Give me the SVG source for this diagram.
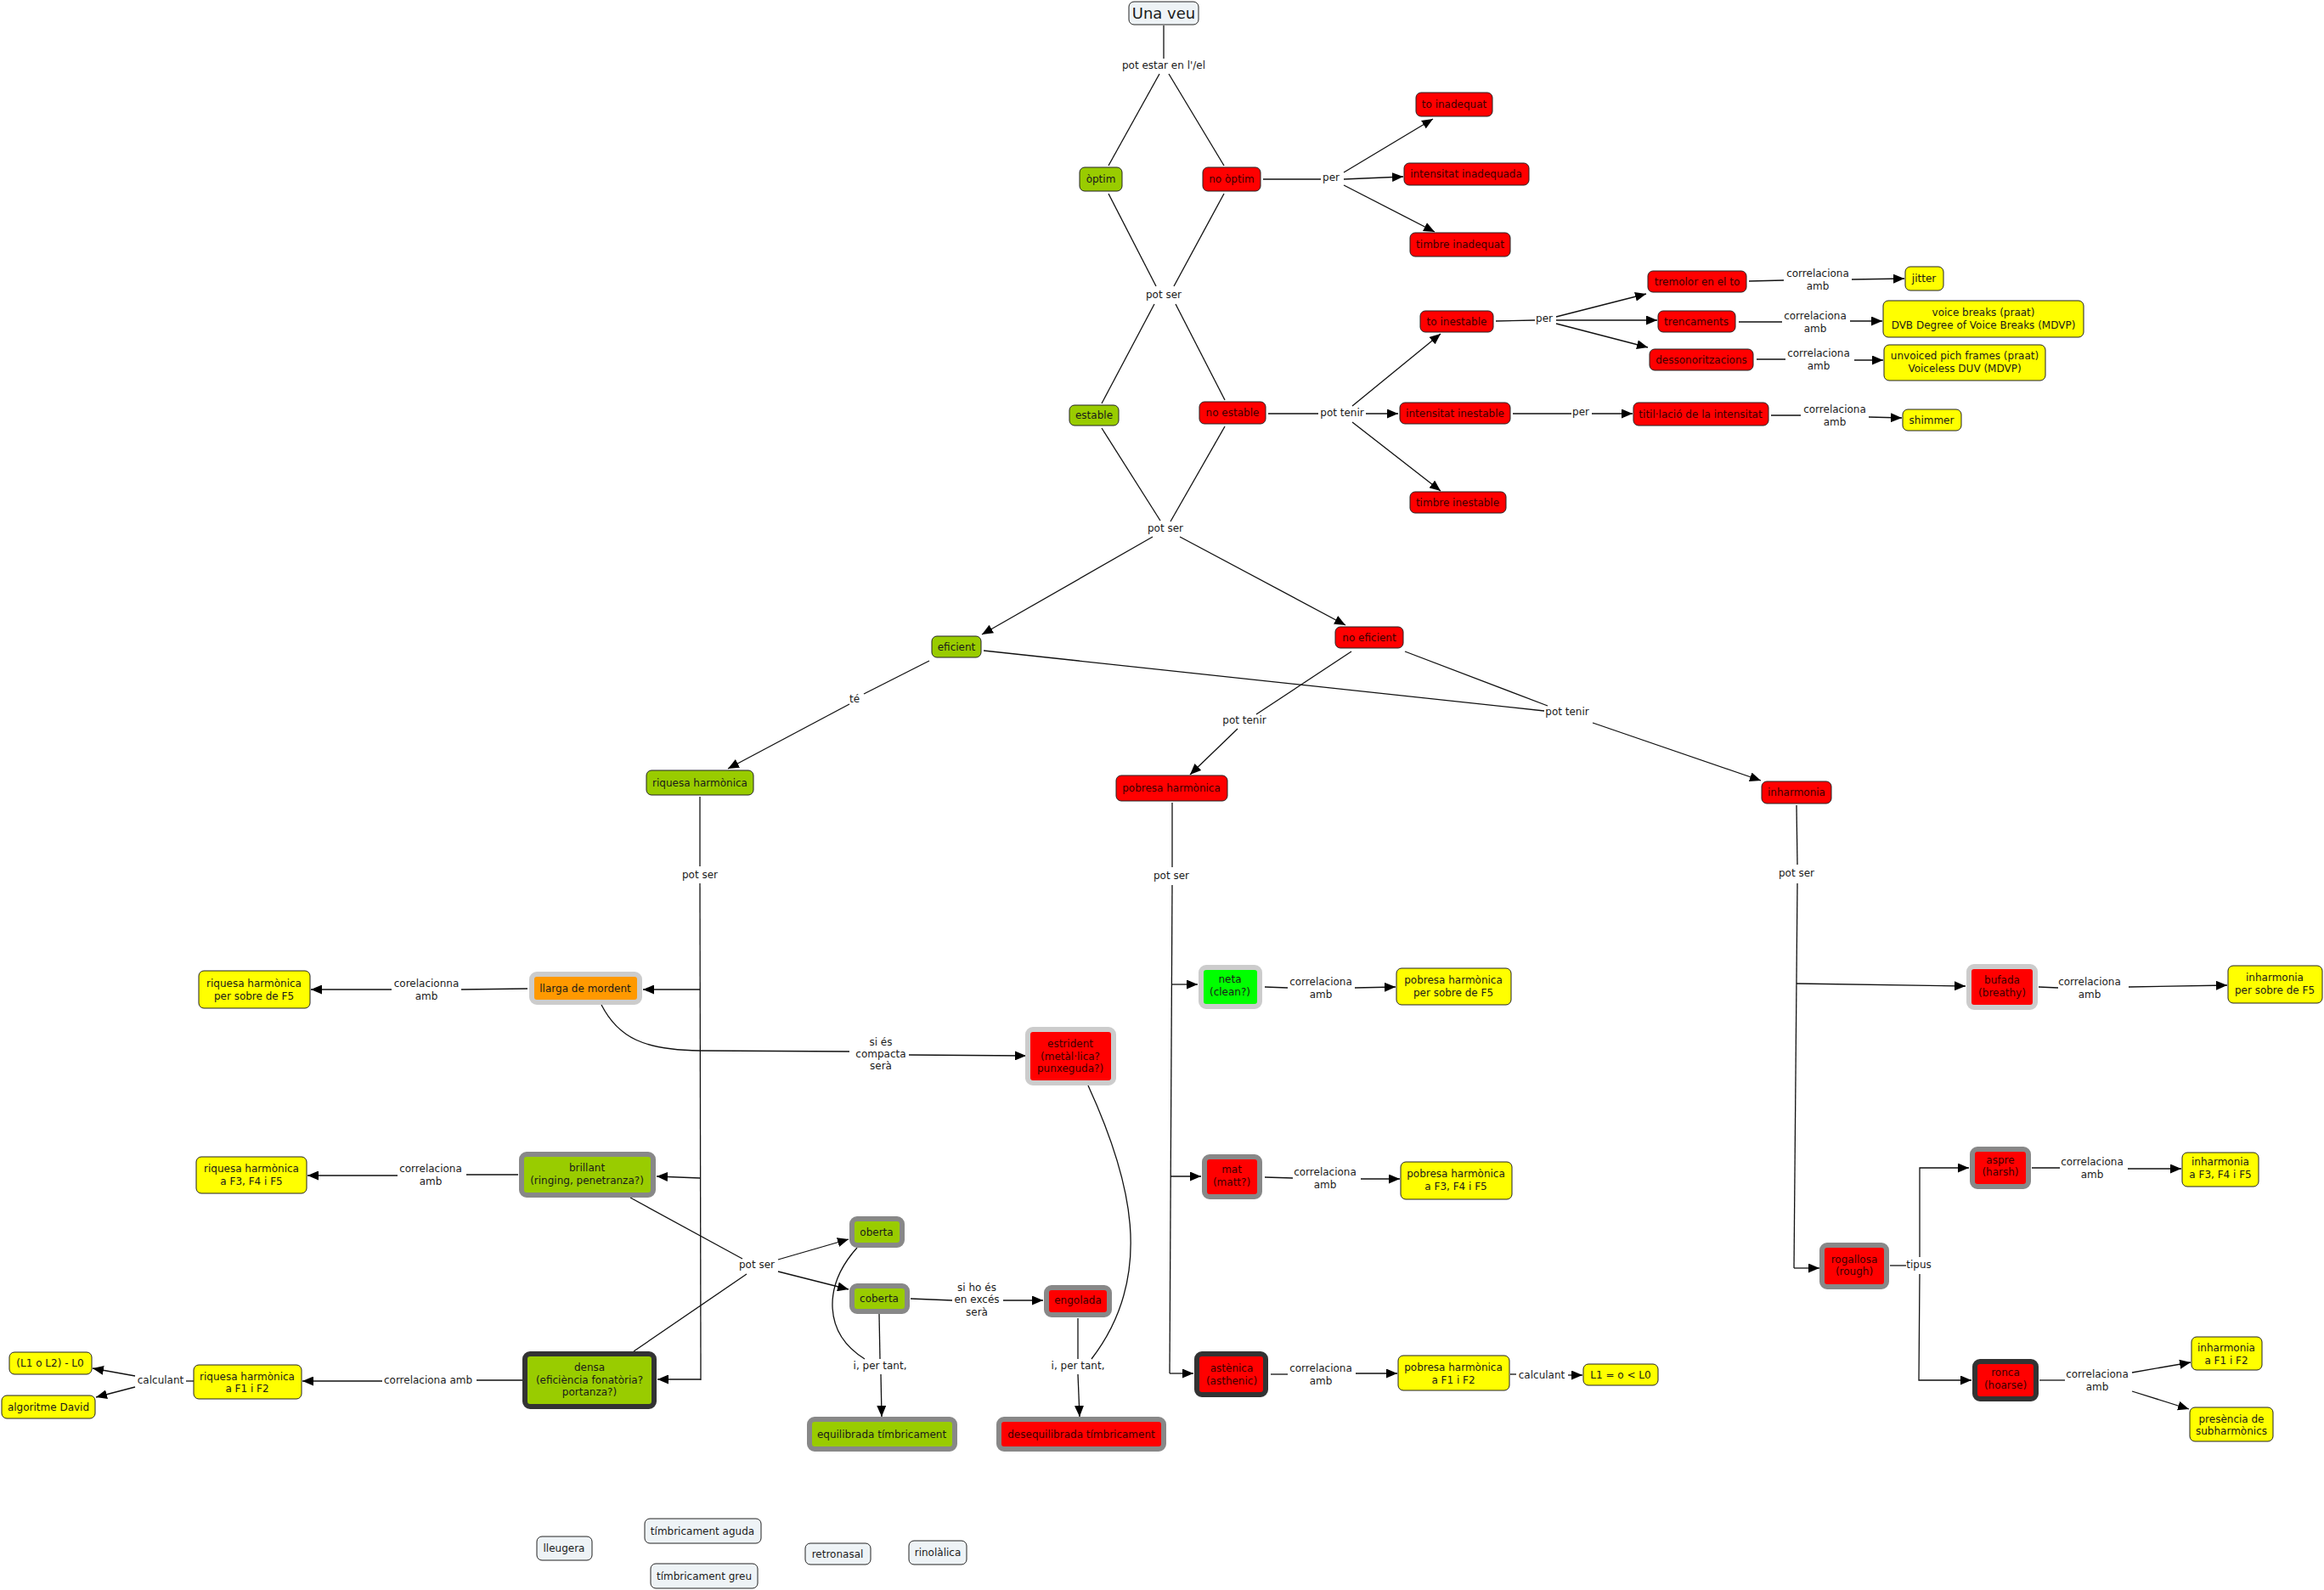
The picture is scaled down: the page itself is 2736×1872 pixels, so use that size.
<svg xmlns="http://www.w3.org/2000/svg" width="2736" height="1872" viewBox="0 0 2736 1872">
<style>
text{font-family:"DejaVu Sans",Verdana,sans-serif;font-size:12px;fill:#1a1a1a;text-anchor:middle}
.n rect{stroke:#222;stroke-width:1}
.red rect{fill:#ff0000}.red text{fill:#3a0000}
.grn rect{fill:#99cc00}
.yel rect{fill:#ffff00}
.org rect{fill:#ff9900}
.lim rect{fill:#00ff00}
.lt rect{fill:#eef3f6}
.b1 rect{stroke:#cccccc;stroke-width:6}
.b2 rect{stroke:#888888;stroke-width:6}
.b3 rect{stroke:#333333;stroke-width:6}
#links line,#links path,#links polyline{stroke:#111;stroke-width:1.3;fill:none}
#links .a{marker-end:url(#ah)}
</style>
<defs>
<marker id="ah" markerUnits="userSpaceOnUse" markerWidth="13" markerHeight="11" refX="13" refY="5.5" orient="auto"><path d="M0,0 L13,5.5 L0,11 z" fill="#000"/></marker>
</defs>
<rect width="2736" height="1872" fill="#fff"/>
<g id="links">
<line x1="1370" y1="30" x2="1370" y2="69"/>
<line x1="1365" y1="87" x2="1305" y2="195"/>
<line x1="1376" y1="87" x2="1441" y2="195"/>
<line x1="1305" y1="228" x2="1361" y2="337"/>
<line x1="1441" y1="228" x2="1382" y2="337"/>
<line x1="1359" y1="358" x2="1297" y2="475"/>
<line x1="1384" y1="358" x2="1442" y2="471"/>
<line x1="1297" y1="504" x2="1366" y2="613"/>
<line x1="1442" y1="502" x2="1378" y2="614"/>
<line class="a" x1="1357" y1="632" x2="1156" y2="747"/>
<line class="a" x1="1389" y1="632" x2="1584" y2="736"/>
<line x1="1487" y1="211" x2="1555" y2="211"/>
<line class="a" x1="1582" y1="203" x2="1687" y2="140"/>
<line class="a" x1="1582" y1="211" x2="1652" y2="208"/>
<line class="a" x1="1582" y1="218" x2="1689" y2="273"/>
<line x1="1493" y1="487" x2="1552" y2="487"/>
<line class="a" x1="1608" y1="487" x2="1646" y2="487"/>
<line class="a" x1="1592" y1="478" x2="1696" y2="393"/>
<line class="a" x1="1592" y1="497" x2="1696" y2="578"/>
<line x1="1761" y1="378" x2="1807" y2="377"/>
<line class="a" x1="1832" y1="373" x2="1938" y2="346"/>
<line class="a" x1="1832" y1="377" x2="1951" y2="377"/>
<line class="a" x1="1832" y1="381" x2="1940" y2="409"/>
<line x1="2059" y1="331" x2="2100" y2="330"/>
<line class="a" x1="2180" y1="329" x2="2242" y2="328"/>
<line x1="2047" y1="379" x2="2098" y2="379"/>
<line class="a" x1="2178" y1="378" x2="2216" y2="378"/>
<line x1="2068" y1="423" x2="2102" y2="423"/>
<line class="a" x1="2183" y1="424" x2="2217" y2="424"/>
<line x1="1781" y1="487" x2="1850" y2="487"/>
<line class="a" x1="1874" y1="487" x2="1922" y2="487"/>
<line x1="2085" y1="489" x2="2120" y2="489"/>
<line class="a" x1="2200" y1="491" x2="2239" y2="492"/>
<line x1="1094" y1="778" x2="1017" y2="817"/>
<line class="a" x1="1000" y1="829" x2="857" y2="905"/>
<line x1="1158" y1="766" x2="1818" y2="837"/>
<line x1="1654" y1="767" x2="1822" y2="831"/>
<line class="a" x1="1875" y1="851" x2="2073" y2="919"/>
<line x1="1591" y1="767" x2="1479" y2="841"/>
<line class="a" x1="1457" y1="858" x2="1401" y2="912"/>
<line x1="824" y1="938" x2="824" y2="1020"/>
<line x1="824" y1="1040" x2="825" y2="1625"/>
<line class="a" x1="824" y1="1165" x2="757" y2="1165"/>
<line class="a" x1="824" y1="1387" x2="773" y2="1385"/>
<line class="a" x1="825" y1="1624" x2="774" y2="1624"/>
<line x1="621" y1="1164" x2="543" y2="1165"/>
<line class="a" x1="461" y1="1165" x2="366" y2="1165"/>
<path d="M708,1183 C728,1222 758,1236 824,1237 L1000,1238"/>
<line class="a" x1="1070" y1="1242" x2="1208" y2="1243"/>
<line x1="610" y1="1383" x2="549" y2="1383"/>
<line class="a" x1="468" y1="1384" x2="362" y2="1384"/>
<line x1="742" y1="1410" x2="874" y2="1482"/>
<line x1="746" y1="1591" x2="879" y2="1500"/>
<line class="a" x1="916" y1="1483" x2="999" y2="1459"/>
<line class="a" x1="916" y1="1497" x2="999" y2="1518"/>
<line x1="615" y1="1625" x2="561" y2="1625"/>
<line class="a" x1="450" y1="1626" x2="356" y2="1626"/>
<line x1="228" y1="1626" x2="219" y2="1626"/>
<line class="a" x1="159" y1="1620" x2="109" y2="1611"/>
<line class="a" x1="159" y1="1633" x2="113" y2="1645"/>
<line x1="1072" y1="1529" x2="1121" y2="1531"/>
<line class="a" x1="1181" y1="1531" x2="1228" y2="1531"/>
<line x1="1035" y1="1547" x2="1036" y2="1600"/>
<line class="a" x1="1037" y1="1618" x2="1038" y2="1668"/>
<path d="M1009,1469 C968,1515 970,1570 1018,1600"/>
<line x1="1269" y1="1552" x2="1269" y2="1600"/>
<line class="a" x1="1269" y1="1618" x2="1271" y2="1668"/>
<path d="M1281,1278 C1330,1385 1362,1500 1285,1600"/>
<line x1="1380" y1="945" x2="1380" y2="1021"/>
<line x1="1380" y1="1042" x2="1377" y2="1617"/>
<line class="a" x1="1379" y1="1159" x2="1410" y2="1159"/>
<line class="a" x1="1378" y1="1385" x2="1414" y2="1385"/>
<line class="a" x1="1377" y1="1617" x2="1405" y2="1617"/>
<line x1="1489" y1="1162" x2="1516" y2="1163"/>
<line class="a" x1="1595" y1="1163" x2="1643" y2="1162"/>
<line x1="1489" y1="1386" x2="1522" y2="1387"/>
<line class="a" x1="1602" y1="1388" x2="1648" y2="1388"/>
<line x1="1496" y1="1618" x2="1516" y2="1618"/>
<line class="a" x1="1596" y1="1617" x2="1645" y2="1617"/>
<line x1="1778" y1="1618" x2="1785" y2="1618"/>
<line class="a" x1="1846" y1="1619" x2="1863" y2="1619"/>
<line x1="2115" y1="948" x2="2116" y2="1018"/>
<polyline points="2116,1040 2112,1493"/>
<line class="a" x1="2115" y1="1158" x2="2314" y2="1161"/>
<line class="a" x1="2112" y1="1493" x2="2142" y2="1493"/>
<line x1="2400" y1="1162" x2="2423" y2="1163"/>
<line class="a" x1="2506" y1="1162" x2="2622" y2="1160"/>
<line x1="2225" y1="1490" x2="2244" y2="1490"/>
<polyline class="a" points="2260,1480 2260,1375 2318,1375"/>
<polyline class="a" points="2260,1500 2259,1625 2321,1625"/>
<line x1="2392" y1="1375" x2="2425" y2="1375"/>
<line class="a" x1="2505" y1="1376" x2="2568" y2="1376"/>
<line x1="2401" y1="1625" x2="2431" y2="1625"/>
<line class="a" x1="2510" y1="1616" x2="2579" y2="1604"/>
<line class="a" x1="2510" y1="1638" x2="2577" y2="1659"/>
</g>
<g id="labels">
<text x="1370" y="81">pot estar en l'/el</text>
<text x="1370" y="351">pot ser</text>
<text x="1372" y="626">pot ser</text>
<text x="1567" y="213">per</text>
<text x="1580" y="490">pot tenir</text>
<text x="1818" y="379">per</text>
<text x="1861" y="489">per</text>
<text x="2140" y="326">correlaciona</text><text x="2140" y="341">amb</text>
<text x="2137" y="376">correlaciona</text><text x="2137" y="391">amb</text>
<text x="2141" y="420">correlaciona</text><text x="2141" y="435">amb</text>
<text x="2160" y="486">correlaciona</text><text x="2160" y="501">amb</text>
<text x="1006" y="827">té</text>
<text x="1845" y="842">pot tenir</text>
<text x="1465" y="852">pot tenir</text>
<text x="824" y="1034">pot ser</text>
<text x="1379" y="1035">pot ser</text>
<text x="2115" y="1032">pot ser</text>
<text x="502" y="1162">corelacionna</text><text x="502" y="1177">amb</text>
<text x="1037" y="1231">si és</text><text x="1037" y="1245">compacta</text><text x="1037" y="1259">serà</text>
<text x="507" y="1380">correlaciona</text><text x="507" y="1395">amb</text>
<text x="891" y="1493">pot ser</text>
<text x="504" y="1629">correlaciona amb</text>
<text x="189" y="1629">calculant</text>
<text x="1150" y="1520">si ho és</text><text x="1150" y="1534">en excés</text><text x="1150" y="1549">serà</text>
<text x="1036" y="1612">i, per tant,</text>
<text x="1269" y="1612">i, per tant,</text>
<text x="1555" y="1160">correlaciona</text><text x="1555" y="1175">amb</text>
<text x="1560" y="1384">correlaciona</text><text x="1560" y="1399">amb</text>
<text x="1555" y="1615">correlaciona</text><text x="1555" y="1630">amb</text>
<text x="1815" y="1623">calculant</text>
<text x="2460" y="1160">correlaciona</text><text x="2460" y="1175">amb</text>
<text x="2259" y="1493">tipus</text>
<text x="2463" y="1372">correlaciona</text><text x="2463" y="1387">amb</text>
<text x="2469" y="1622">correlaciona</text><text x="2469" y="1637">amb</text>
</g>
<g id="una_veu" class="n lt"><rect x="1329" y="2" width="82" height="27" rx="6"/><text x="1370" y="22" style="font-size:18px">Una veu</text></g>
<g id="optim" class="n grn"><rect x="1271" y="197" width="50" height="28" rx="6"/><text x="1296" y="215">òptim</text></g>
<g id="no_optim" class="n red"><rect x="1416" y="197" width="68" height="28" rx="6"/><text x="1450" y="215">no òptim</text></g>
<g id="to_inadequat" class="n red"><rect x="1667" y="109" width="90" height="28" rx="6"/><text x="1712" y="127">to inadequat</text></g>
<g id="intensitat_inadequada" class="n red"><rect x="1653" y="192" width="147" height="26" rx="6"/><text x="1726" y="209">intensitat inadequada</text></g>
<g id="timbre_inadequat" class="n red"><rect x="1660" y="274" width="118" height="28" rx="6"/><text x="1719" y="292">timbre inadequat</text></g>
<g id="estable" class="n grn"><rect x="1259" y="477" width="58" height="24" rx="6"/><text x="1288" y="493">estable</text></g>
<g id="no_estable" class="n red"><rect x="1412" y="473" width="78" height="26" rx="6"/><text x="1451" y="490">no estable</text></g>
<g id="to_inestable" class="n red"><rect x="1672" y="366" width="86" height="25" rx="6"/><text x="1715" y="383">to inestable</text></g>
<g id="intensitat_inestable" class="n red"><rect x="1648" y="474" width="130" height="25" rx="6"/><text x="1713" y="491">intensitat inestable</text></g>
<g id="timbre_inestable" class="n red"><rect x="1660" y="579" width="113" height="25" rx="6"/><text x="1716" y="596">timbre inestable</text></g>
<g id="tremolor" class="n red"><rect x="1940" y="319" width="116" height="25" rx="6"/><text x="1998" y="336">tremolor en el to</text></g>
<g id="trencaments" class="n red"><rect x="1952" y="366" width="91" height="25" rx="6"/><text x="1997" y="383">trencaments</text></g>
<g id="dessonoritzacions" class="n red"><rect x="1942" y="411" width="122" height="25" rx="6"/><text x="2003" y="428">dessonoritzacions</text></g>
<g id="titillacio" class="n red"><rect x="1923" y="474" width="159" height="27" rx="6"/><text x="2002" y="492">titil·lació de la intensitat</text></g>
<g id="jitter" class="n yel"><rect x="2243" y="314" width="45" height="28" rx="6"/><text x="2265" y="332">jitter</text></g>
<g id="voice_breaks" class="n yel"><rect x="2217" y="354" width="236" height="43" rx="6"/><text x="2335" y="372">voice breaks (praat)</text><text x="2335" y="387">DVB Degree of Voice Breaks (MDVP)</text></g>
<g id="unvoiced" class="n yel"><rect x="2218" y="406" width="190" height="42" rx="6"/><text x="2313" y="423">unvoiced pich frames (praat)</text><text x="2313" y="438">Voiceless DUV (MDVP)</text></g>
<g id="shimmer" class="n yel"><rect x="2240" y="482" width="69" height="25" rx="6"/><text x="2274" y="499">shimmer</text></g>
<g id="eficient" class="n grn"><rect x="1097" y="749" width="58" height="25" rx="6"/><text x="1126" y="766">eficient</text></g>
<g id="no_eficient" class="n red"><rect x="1572" y="738" width="80" height="25" rx="6"/><text x="1612" y="755">no eficient</text></g>
<g id="riquesa" class="n grn"><rect x="761" y="907" width="126" height="29" rx="6"/><text x="824" y="926">riquesa harmònica</text></g>
<g id="pobresa" class="n red"><rect x="1314" y="913" width="131" height="30" rx="6"/><text x="1379" y="932">pobresa harmònica</text></g>
<g id="inharmonia" class="n red"><rect x="2074" y="920" width="82" height="26" rx="6"/><text x="2115" y="937">inharmonia</text></g>
<g id="llarga" class="n org b1"><rect x="626" y="1147" width="127" height="33" rx="6"/><text x="689" y="1168">llarga de mordent</text></g>
<g id="riquesa_f5" class="n yel"><rect x="234" y="1143" width="131" height="44" rx="6"/><text x="299" y="1162">riquesa harmònica</text><text x="299" y="1177">per sobre de F5</text></g>
<g id="estrident" class="n red b1"><rect x="1210" y="1212" width="101" height="63" rx="6"/><text x="1260" y="1233">estrident</text><text x="1260" y="1248">(metàl·lica?</text><text x="1260" y="1262">punxeguda?)</text></g>
<g id="neta" class="n lim b1"><rect x="1414" y="1139" width="69" height="46" rx="6"/><text x="1448" y="1157">neta</text><text x="1448" y="1172">(clean?)</text></g>
<g id="pobresa_f5" class="n yel"><rect x="1644" y="1140" width="135" height="43" rx="6"/><text x="1711" y="1158">pobresa harmònica</text><text x="1711" y="1173">per sobre de F5</text></g>
<g id="brillant" class="n grn b2"><rect x="614" y="1359" width="155" height="48" rx="6"/><text x="691" y="1379">brillant</text><text x="691" y="1394">(ringing, penetranza?)</text></g>
<g id="riquesa_f345" class="n yel"><rect x="231" y="1362" width="130" height="43" rx="6"/><text x="296" y="1380">riquesa harmònica</text><text x="296" y="1395">a F3, F4 i F5</text></g>
<g id="mat" class="n red b2"><rect x="1418" y="1362" width="65" height="47" rx="6"/><text x="1450" y="1381">mat</text><text x="1450" y="1396">(matt?)</text></g>
<g id="pobresa_f345" class="n yel"><rect x="1649" y="1368" width="131" height="44" rx="6"/><text x="1714" y="1386">pobresa harmònica</text><text x="1714" y="1401">a F3, F4 i F5</text></g>
<g id="oberta" class="n grn b2"><rect x="1003" y="1435" width="59" height="31" rx="6"/><text x="1032" y="1455">oberta</text></g>
<g id="coberta" class="n grn b2"><rect x="1003" y="1514" width="65" height="30" rx="6"/><text x="1035" y="1533">coberta</text></g>
<g id="engolada" class="n red b2"><rect x="1232" y="1516" width="74" height="32" rx="6"/><text x="1269" y="1535">engolada</text></g>
<g id="densa" class="n grn b3"><rect x="618" y="1594" width="152" height="62" rx="6"/><text x="694" y="1614">densa</text><text x="694" y="1629">(eficiència fonatòria?</text><text x="694" y="1643">portanza?)</text></g>
<g id="riquesa_f12" class="n yel"><rect x="228" y="1607" width="127" height="40" rx="6"/><text x="291" y="1625">riquesa harmònica</text><text x="291" y="1639">a F1 i F2</text></g>
<g id="l1l2" class="n yel"><rect x="11" y="1592" width="97" height="26" rx="6"/><text x="59" y="1609">(L1 o L2) - L0</text></g>
<g id="algoritme" class="n yel"><rect x="2" y="1643" width="110" height="27" rx="6"/><text x="57" y="1661">algoritme David</text></g>
<g id="equilibrada" class="n grn b2"><rect x="953" y="1671" width="171" height="35" rx="6"/><text x="1038" y="1693">equilibrada tímbricament</text></g>
<g id="desequilibrada" class="n red b2"><rect x="1176" y="1671" width="194" height="35" rx="6"/><text x="1273" y="1693">desequilibrada tímbricament</text></g>
<g id="astenica" class="n red b3"><rect x="1409" y="1594" width="81" height="48" rx="6"/><text x="1450" y="1615">astènica</text><text x="1450" y="1630">(asthenic)</text></g>
<g id="pobresa_f12" class="n yel"><rect x="1646" y="1596" width="131" height="41" rx="6"/><text x="1711" y="1614">pobresa harmònica</text><text x="1711" y="1629">a F1 i F2</text></g>
<g id="l1o" class="n yel"><rect x="1864" y="1606" width="88" height="25" rx="6"/><text x="1908" y="1623">L1 = o &lt; L0</text></g>
<g id="bufada" class="n red b1"><rect x="2318" y="1138" width="78" height="48" rx="6"/><text x="2357" y="1158">bufada</text><text x="2357" y="1173">(breathy)</text></g>
<g id="inharmonia_f5" class="n yel"><rect x="2623" y="1137" width="111" height="44" rx="6"/><text x="2678" y="1155">inharmonia</text><text x="2678" y="1170">per sobre de F5</text></g>
<g id="aspre" class="n red b2"><rect x="2322" y="1353" width="66" height="44" rx="6"/><text x="2355" y="1370">aspre</text><text x="2355" y="1384">(harsh)</text></g>
<g id="inharmonia_f345" class="n yel"><rect x="2569" y="1357" width="90" height="40" rx="6"/><text x="2614" y="1372">inharmonia</text><text x="2614" y="1387">a F3, F4 i F5</text></g>
<g id="rogallosa" class="n red b2"><rect x="2145" y="1466" width="76" height="49" rx="6"/><text x="2183" y="1487">rogallosa</text><text x="2183" y="1501">(rough)</text></g>
<g id="ronca" class="n red b3"><rect x="2325" y="1603" width="72" height="44" rx="6"/><text x="2361" y="1620">ronca</text><text x="2361" y="1635">(hoarse)</text></g>
<g id="inharmonia_f12" class="n yel"><rect x="2580" y="1574" width="83" height="39" rx="6"/><text x="2621" y="1591">inharmonia</text><text x="2621" y="1606">a F1 i F2</text></g>
<g id="presencia" class="n yel"><rect x="2578" y="1657" width="98" height="40" rx="6"/><text x="2627" y="1675">presència de</text><text x="2627" y="1689">subharmònics</text></g>
<g id="lleugera" class="n lt"><rect x="632" y="1809" width="65" height="28" rx="6"/><text x="664" y="1827">lleugera</text></g>
<g id="timbricament_aguda" class="n lt"><rect x="759" y="1788" width="137" height="29" rx="6"/><text x="827" y="1807">tímbricament aguda</text></g>
<g id="timbricament_greu" class="n lt"><rect x="766" y="1841" width="126" height="29" rx="6"/><text x="829" y="1860">tímbricament greu</text></g>
<g id="retronasal" class="n lt"><rect x="948" y="1817" width="77" height="25" rx="6"/><text x="986" y="1834">retronasal</text></g>
<g id="rinolalica" class="n lt"><rect x="1070" y="1814" width="68" height="28" rx="6"/><text x="1104" y="1832">rinolàlica</text></g>
</svg>
